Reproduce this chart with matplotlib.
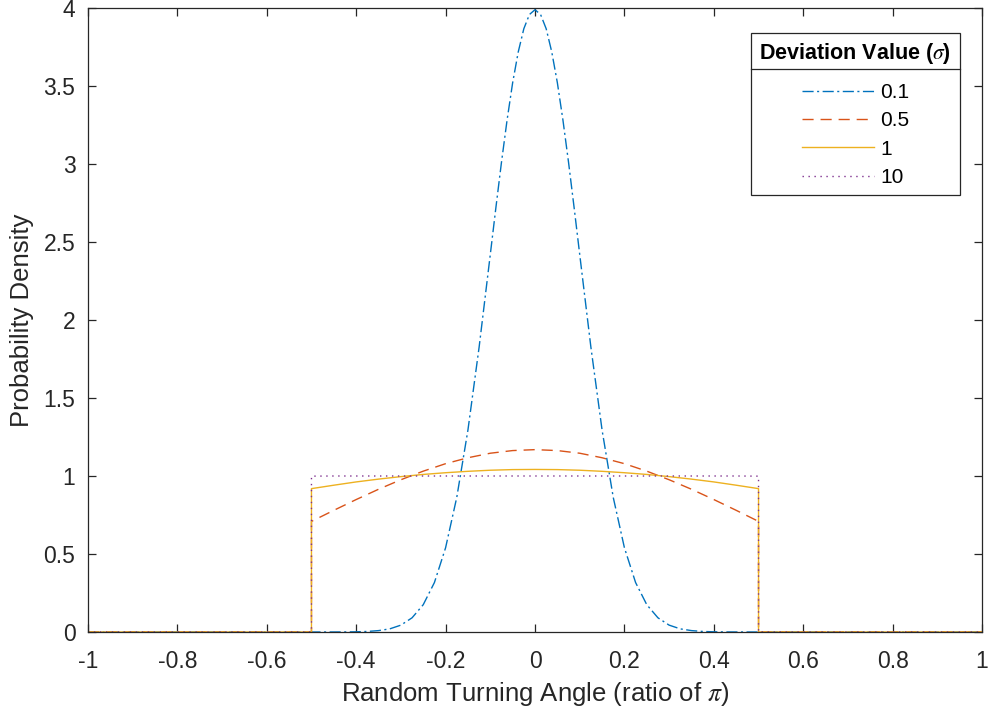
"""
Truncated normal turning-angle densities for several deviation values.
"""

import numpy as np
import matplotlib
matplotlib.use("Agg")
import matplotlib.pyplot as plt
from matplotlib.lines import Line2D


# =====================================================
# Data (half curves x >= 0)
# =====================================================

SIGMA_LABELS = ["0.1", "0.5", "1", "10"]

# narrow curve (sigma = 0.1), x from 0 to 0.5
X_NARROW = [0.0, 0.0125, 0.025, 0.0375, 0.05, 0.0625, 0.075, 0.0875, 0.1,
            0.125, 0.15, 0.175, 0.2, 0.225, 0.25, 0.275, 0.3, 0.325,
            0.35, 0.375, 0.4, 0.425, 0.45, 0.475, 0.5]
Y_SIGMA_01 = [3.989, 3.958, 3.867, 3.718, 3.521, 3.281, 3.011, 2.720, 2.420,
              1.826, 1.295, 0.863, 0.540, 0.317, 0.175, 0.091, 0.044, 0.020,
              0.009, 0.0035, 0.0013, 0.0005, 0.0002, 0.0001, 0.0]

# wide curves, x from 0 to 0.5
X_WIDE = [0.0, 0.05, 0.1, 0.15, 0.2, 0.25, 0.3, 0.35, 0.4, 0.45, 0.5]
Y_SIGMA_05 = [1.169, 1.163, 1.146, 1.117, 1.079, 1.031, 0.976, 0.915,
              0.849, 0.780, 0.709]
Y_SIGMA_1 = [1.042, 1.041, 1.037, 1.030, 1.021, 1.010, 0.996, 0.980,
             0.962, 0.941, 0.919]
Y_SIGMA_10 = [1.000, 1.000, 1.000, 1.000, 1.000, 1.000, 1.000, 1.000,
              1.000, 1.000, 0.999]

X_TICKS = [-1, -0.8, -0.6, -0.4, -0.2, 0, 0.2, 0.4, 0.6, 0.8, 1]
X_TICK_LABELS = ["-1", "-0.8", "-0.6", "-0.4", "-0.2", "0",
                 "0.2", "0.4", "0.6", "0.8", "1"]
Y_TICKS = [0, 0.5, 1, 1.5, 2, 2.5, 3, 3.5, 4]
Y_TICK_LABELS = ["0", "0.5", "1", "1.5", "2", "2.5", "3", "3.5", "4"]


# =====================================================
# Build full series on [-1, 1] (zero outside +-0.5)
# =====================================================

def full_curve(x_half, y_half):

    x_half = np.asarray(x_half)
    y_half = np.asarray(y_half)

    x_mid = np.concatenate([-x_half[::-1], x_half[1:]])
    y_mid = np.concatenate([y_half[::-1], y_half[1:]])

    x = np.concatenate([[-1.0, -0.5], x_mid, [0.5, 1.0]])
    y = np.concatenate([[0.0, 0.0], y_mid, [0.0, 0.0]])

    return x, y


# =====================================================
# Plot
# =====================================================

plt.rcParams["font.family"] = ["Liberation Sans", "DejaVu Sans"]
plt.rcParams["axes.unicode_minus"] = False
plt.rcParams["mathtext.fontset"] = "stix"

fig = plt.figure(figsize=(9.88, 7.13), dpi=100)
ax = fig.add_axes([0.089, 0.1136, 0.905, 0.8752])

colors = ["#0072BD", "#D95319", "#EDB120", "#7E2F8E"]
dashes = [(8, 2.5, 1.5, 2.5), (8, 5), (None, None), (1, 3.3)]
series = [
    (X_NARROW, Y_SIGMA_01),
    (X_WIDE, Y_SIGMA_05),
    (X_WIDE, Y_SIGMA_1),
    (X_WIDE, Y_SIGMA_10),
]

for (xs, ys), label, c, d in zip(series, SIGMA_LABELS, colors, dashes):
    x, y = full_curve(xs, ys)
    line, = ax.plot(x, y, color=c, linewidth=1.0, label=label)
    if d[0] is not None:
        line.set_dashes(d)

ax.set_xlim(-1, 1)
ax.set_ylim(0, 4)
ax.set_xticks(X_TICKS)
ax.set_xticklabels(X_TICK_LABELS)
ax.set_yticks(Y_TICKS)
ax.set_yticklabels(Y_TICK_LABELS)

axis_color = "#262626"
for spine in ax.spines.values():
    spine.set_color(axis_color)
    spine.set_linewidth(0.9)

ax.tick_params(
    direction="in", top=True, right=True, length=6, width=0.9,
    colors=axis_color, labelsize=16.5
)
ax.tick_params(axis="x", pad=13)
ax.tick_params(axis="y", pad=9)

ax.set_xlabel("Random Turning Angle (ratio of $\\pi$)", fontsize=18.5,
              color=axis_color, labelpad=5)
ax.set_ylabel("Probability Density", fontsize=18.5, color=axis_color,
              labelpad=7)

leg = ax.legend(
    title="Deviation Value ($\\sigma$)",
    loc="upper right",
    bbox_to_anchor=(0.975, 0.96),
    borderaxespad=0,
    fontsize=15,
    title_fontproperties={"weight": "bold", "size": 15.5},
    frameon=True,
    fancybox=False,
    framealpha=1,
    edgecolor=axis_color,
    handlelength=3.45,
    handletextpad=0.3,
    labelspacing=0.45,
    borderpad=0.4,
)
leg.get_frame().set_linewidth(0.9)
leg._legend_box.sep = 12

# separator line under the legend title
fig.canvas.draw()
renderer = fig.canvas.get_renderer()
frame_bb = leg.get_frame().get_window_extent(renderer)
title_bb = leg.get_title().get_window_extent(renderer)
sep_y = (title_bb.y0 + title_bb.y1) / 2 - 15
inv = fig.transFigure.inverted()
(x0, y0) = inv.transform((frame_bb.x0, sep_y))
(x1, _) = inv.transform((frame_bb.x1, sep_y))
fig.add_artist(Line2D([x0, x1], [y0, y0], transform=fig.transFigure,
                      color=axis_color, linewidth=0.9))

fig.savefig("out.png", dpi=100)
